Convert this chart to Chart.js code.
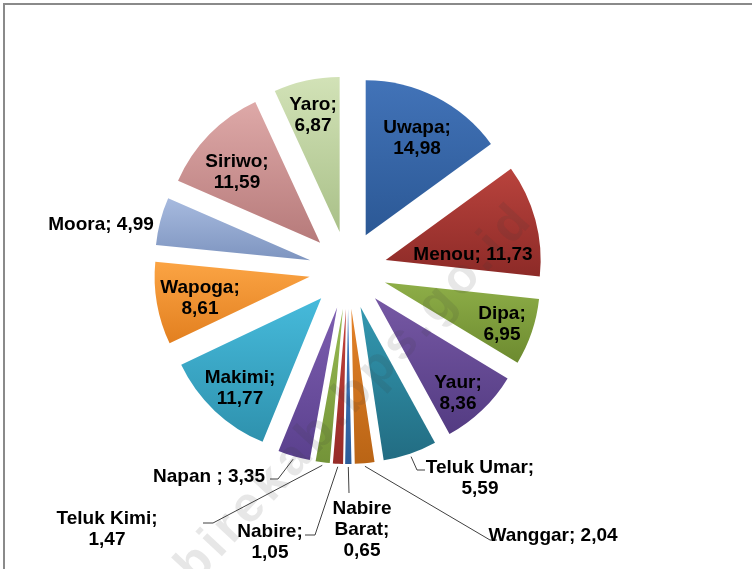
<!DOCTYPE html>
<html>
<head>
<meta charset="utf-8">
<script src="https://cdn.jsdelivr.net/npm/chart.js@4.4.0/dist/chart.umd.min.js"></script>
<style>
  html, body { margin: 0; padding: 0; background: #fff; overflow: hidden; }
  #wrap { position: relative; width: 752px; height: 569px; }
  #frame { position: absolute; left: 3px; top: 3px; width: 800px; height: 600px;
           border-left: 2px solid #8a8a8a; border-top: 2px solid #8a8a8a; }
  #pieChart { position: absolute; left: 0; top: 0; }
</style>
</head>
<body>
<div id="wrap">
  <div id="frame"></div>
  <canvas id="pieChart" width="752" height="569"></canvas>
</div>
<script>
/* -------------------------------
   Data (share of area per district, %)
--------------------------------*/
const districts = ["Uwapa", "Menou", "Dipa", "Yaur", "Teluk Umar", "Wanggar", "Nabire Barat",
  "Nabire", "Teluk Kimi", "Napan ", "Makimi", "Wapoga", "Moora", "Siriwo", "Yaro"];
const shares = [14.98, 11.73, 6.95, 8.36, 5.59, 2.04, 0.65, 1.05, 1.47, 3.35, 11.77, 8.61, 4.99, 11.59, 6.87];

const topColors = ["#4273b8", "#b9433d", "#8eae48", "#7658a4", "#3398b0", "#e5832a", "#467dc4",
  "#c4433d", "#98bb52", "#7d5eb0", "#46badb", "#fba444", "#a7badf", "#dea9a8", "#d2e2b7"];
const bottomColors = ["#2b5895", "#8c2a27", "#6c8a2f", "#533b82", "#226c82", "#b96415", "#2b5c99",
  "#962b27", "#739338", "#5a408d", "#2e91ad", "#e27f1f", "#7d94bf", "#b67a7a", "#a9c088"];

/* -------------------------------
   Layout (label placement, explosion)
--------------------------------*/
const EXPLODE = 39;
const LINE_H = 21;
const labelLayout = {
  "Uwapa":        { at: [417, 138], mode: "stack" },
  "Menou":        { at: [473, 255], mode: "inline" },
  "Dipa":         { at: [502, 324], mode: "stack" },
  "Yaur":         { at: [458, 393], mode: "stack" },
  "Teluk Umar":   { at: [480, 478], mode: "stack", knee: [417, 470], end: [425, 470] },
  "Wanggar":      { at: [553, 536], mode: "inline", knee: [490, 540], end: [497, 540] },
  "Nabire Barat": { at: [362, 530], mode: "wrap", knee: [349, 493], end: [349, 493] },
  "Nabire":       { at: [270, 542], mode: "stack", knee: [315, 535], end: [305, 535] },
  "Teluk Kimi":   { at: [107, 529], mode: "stack", knee: [213, 523], end: [203, 523] },
  "Napan ":       { at: [209, 477], mode: "inline", knee: [278, 479], end: [270, 479] },
  "Makimi":       { at: [240, 388], mode: "stack" },
  "Wapoga":       { at: [200, 298], mode: "stack" },
  "Moora":        { at: [101, 225], mode: "inline" },
  "Siriwo":       { at: [237, 172], mode: "stack" },
  "Yaro":         { at: [313, 115], mode: "stack" }
};

function fmt(v) {
  return v.toFixed(2).replace(".", ",");
}

function labelLines(name, value, mode) {
  const v = fmt(value);
  if (mode === "inline") return [name + "; " + v];
  if (mode === "wrap") {
    const words = name.split(" ");
    words[words.length - 1] += ";";
    return words.concat([v]);
  }
  return [name + ";", v];
}

/* -------------------------------
   Slice gradient (light top, dark bottom of each slice)
--------------------------------*/
function sliceGradient(chart, i) {
  const area = chart.chartArea;
  if (!area) return topColors[i];
  const r = Math.min(area.right - area.left, area.bottom - area.top) / 2;
  const total = shares.reduce((a, b) => a + b, 0);
  let before = 0;
  for (let k = 0; k < i; k++) before += shares[k];
  const a0 = -Math.PI / 2 + before / total * 2 * Math.PI;
  const a1 = a0 + shares[i] / total * 2 * Math.PI;
  const mid = (a0 + a1) / 2;
  const cy = (area.top + area.bottom) / 2 + Math.sin(mid) * EXPLODE;
  let minY = cy, maxY = cy;
  for (let s = 0; s <= 24; s++) {
    const y = cy + Math.sin(a0 + (a1 - a0) * s / 24) * r;
    minY = Math.min(minY, y);
    maxY = Math.max(maxY, y);
  }
  const g = chart.ctx.createLinearGradient(0, minY, 0, maxY + 1);
  g.addColorStop(0, topColors[i]);
  g.addColorStop(1, bottomColors[i]);
  return g;
}

/* -------------------------------
   Plugins
--------------------------------*/
const explodePlugin = {
  id: "explode",
  afterDatasetsUpdate(chart) {
    chart.getDatasetMeta(0).data.forEach(arc => {
      const mid = (arc.startAngle + arc.endAngle) / 2;
      arc.x += Math.cos(mid) * EXPLODE;
      arc.y += Math.sin(mid) * EXPLODE;
    });
  }
};

const labelPlugin = {
  id: "sliceLabels",
  afterDatasetsDraw(chart) {
    const ctx = chart.ctx;
    const arcs = chart.getDatasetMeta(0).data;
    ctx.save();

    // leader lines
    ctx.strokeStyle = "#404040";
    ctx.lineWidth = 1;
    arcs.forEach((arc, i) => {
      const lay = labelLayout[districts[i]];
      if (!lay.knee) return;
      const mid = (arc.startAngle + arc.endAngle) / 2;
      const px = arc.x + Math.cos(mid) * (arc.outerRadius + 3);
      const py = arc.y + Math.sin(mid) * (arc.outerRadius + 3);
      ctx.beginPath();
      ctx.moveTo(px, py);
      ctx.lineTo(lay.knee[0], lay.knee[1]);
      ctx.lineTo(lay.end[0], lay.end[1]);
      ctx.stroke();
    });

    // texts
    ctx.fillStyle = "#000";
    ctx.font = "bold 19px 'Liberation Sans', Arial, sans-serif";
    ctx.textAlign = "center";
    ctx.textBaseline = "middle";
    arcs.forEach((arc, i) => {
      const lay = labelLayout[districts[i]];
      const lines = labelLines(districts[i], shares[i], lay.mode);
      const y0 = lay.at[1] - (lines.length - 1) * LINE_H / 2;
      lines.forEach((t, k) => ctx.fillText(t, lay.at[0], y0 + k * LINE_H));
    });
    ctx.restore();
  },
  afterDraw(chart) {
    // faint source watermark
    const ctx = chart.ctx;
    ctx.save();
    ctx.translate(332, 418);
    ctx.rotate(-47 * Math.PI / 180);
    ctx.font = "bold 50px 'Liberation Sans', Arial, sans-serif";
    if ("letterSpacing" in ctx) ctx.letterSpacing = "5px";
    ctx.textAlign = "center";
    ctx.textBaseline = "middle";
    ctx.fillStyle = "rgba(60, 60, 60, 0.12)";
    ctx.fillText("nabirekab.bps.go.id", 0, 0);
    ctx.restore();
  }
};

/* -------------------------------
   Chart
--------------------------------*/
new Chart(document.getElementById("pieChart"), {
  type: "pie",
  data: {
    labels: districts,
    datasets: [
      {
        data: shares,
        backgroundColor: c => sliceGradient(c.chart, c.dataIndex),
        borderWidth: 0
      }
    ]
  },
  options: {
    responsive: false,
    animation: false,
    events: [],
    layout: {
      padding: { left: 193, right: 249, top: 115, bottom: 144 }
    },
    plugins: {
      legend: { display: false },
      tooltip: { enabled: false }
    }
  },
  plugins: [explodePlugin, labelPlugin]
});
</script>
</body>
</html>
